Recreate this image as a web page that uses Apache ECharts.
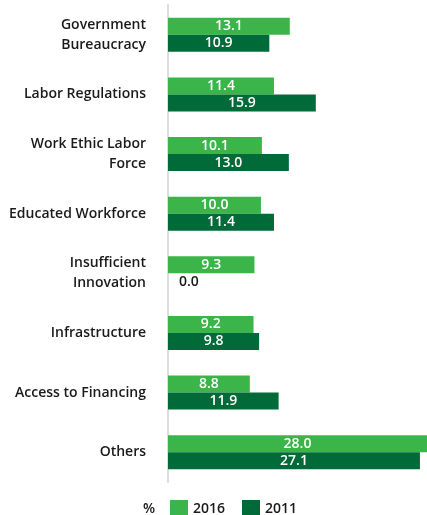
<!DOCTYPE html>
<html>
<head>
<meta charset="utf-8">
<script src="https://cdn.jsdelivr.net/npm/echarts@6/dist/echarts.min.js"></script>
<style>
  html, body { margin: 0; padding: 0; background: #fff; }
  #chart { width: 427px; height: 515px; }
</style>
</head>
<body>
<div id="chart"></div>
<script>
// Obstacles to doing business, share of responses (%)
const categories = [
  'Government\nBureaucracy',
  'Labor Regulations',
  'Work Ethic Labor\nForce',
  'Educated Workforce',
  'Insufficient\nInnovation',
  'Infrastructure',
  'Access to Financing',
  'Others'
];
const values2016 = [13.1, 11.4, 10.1, 10.0, 9.3, 9.2, 8.8, 28.0];
const values2011 = [10.9, 15.9, 13.0, 11.4, 0.0, 9.8, 11.9, 27.1];
const seriesNames = ['2016', '2011'];
const unitLabel = '%';

const COLOR_2016 = '#3bb54a';
const COLOR_2011 = '#006a38';
const FONT = '"Open Sans", sans-serif';

// A zero-length bar has no room for an inside label, so put it beside the bar in dark text
function toBarData(values) {
  return values.map(v => v === 0
    ? { value: v, label: { position: 'right', color: '#1a1a1a', distance: 11 } }
    : v);
}

function barSeries(name, values, color) {
  return {
    name: name,
    type: 'bar',
    data: toBarData(values),
    barGap: '0%',
    barCategoryGap: '43%',
    itemStyle: { color: color },
    label: {
      show: true,
      position: 'inside',
      color: '#ffffff',
      fontFamily: FONT,
      fontSize: 14,
      fontWeight: 600,
      formatter: p => Number(p.value).toFixed(1)
    }
  };
}

const chart = echarts.init(document.getElementById('chart'));
chart.setOption({
  animation: false,
  grid: { left: 168, right: 0, top: 5, bottom: 33, containLabel: false },
  xAxis: {
    type: 'value',
    min: 0,
    max: 27.86,
    show: false
  },
  yAxis: {
    type: 'category',
    inverse: true,
    data: categories,
    axisLine: { show: true, lineStyle: { color: '#dddddd', width: 2 } },
    axisTick: { show: false },
    axisLabel: {
      margin: 22,
      color: '#1a1a1a',
      fontFamily: FONT,
      fontSize: 14,
      fontWeight: 600,
      lineHeight: 20,
      align: 'right'
    }
  },
  legend: {
    left: 170,
    top: 500,
    padding: 0,
    itemWidth: 18,
    itemHeight: 18,
    itemGap: 17,
    icon: 'rect',
    textStyle: { color: '#1a1a1a', fontFamily: FONT, fontSize: 14, fontWeight: 600 },
    data: seriesNames
  },
  graphic: [{
    type: 'text',
    x: 149,
    y: 509,
    style: {
      text: unitLabel,
      fill: '#1a1a1a',
      font: '600 14px ' + FONT,
      align: 'center',
      verticalAlign: 'middle'
    }
  }],
  series: [
    barSeries(seriesNames[0], values2016, COLOR_2016),
    barSeries(seriesNames[1], values2011, COLOR_2011)
  ]
});
</script>
</body>
</html>
